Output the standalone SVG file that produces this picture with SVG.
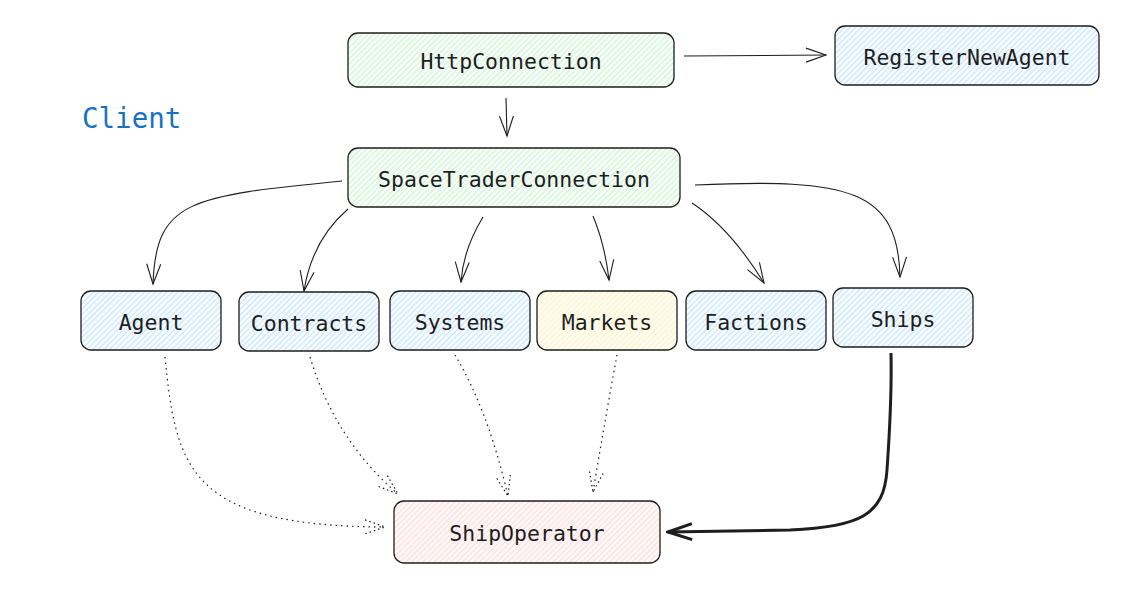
<svg xmlns="http://www.w3.org/2000/svg" width="1127" height="595" viewBox="0 0 1127 595">
<style>
.box{stroke:#1e1e1e;stroke-width:1.3;}
.lbl{font-family:"DejaVu Sans Mono","Liberation Mono",monospace;font-size:21.5px;fill:#1e1e1e;text-anchor:middle;dominant-baseline:central;}
.edge{fill:none;stroke:#1e1e1e;stroke-width:1.1;}
.dot{fill:none;stroke:#1e1e1e;stroke-width:1.2;stroke-dasharray:1.5 4;}
.thick{fill:none;stroke:#1e1e1e;stroke-width:3;}
</style>
<defs>
<pattern id="hg" width="4" height="4" patternUnits="userSpaceOnUse" patternTransform="rotate(45)"><rect width="4" height="4" fill="#f6fcf7"/><line x1="0" y1="0" x2="0" y2="4" stroke="#b2f2bb" stroke-width="1.2"/></pattern>
<pattern id="hb" width="4" height="4" patternUnits="userSpaceOnUse" patternTransform="rotate(45)"><rect width="4" height="4" fill="#f5faff"/><line x1="0" y1="0" x2="0" y2="4" stroke="#a5d8ff" stroke-width="1.2"/></pattern>
<pattern id="hy" width="4" height="4" patternUnits="userSpaceOnUse" patternTransform="rotate(45)"><rect width="4" height="4" fill="#fffdf3"/><line x1="0" y1="0" x2="0" y2="4" stroke="#ffec99" stroke-width="1.2"/></pattern>
<pattern id="hr" width="4" height="4" patternUnits="userSpaceOnUse" patternTransform="rotate(45)"><rect width="4" height="4" fill="#fff7f7"/><line x1="0" y1="0" x2="0" y2="4" stroke="#ffc9c9" stroke-width="1.2"/></pattern>
<marker id="arr" viewBox="0 0 24 20" refX="22" refY="10" markerWidth="24" markerHeight="20" markerUnits="userSpaceOnUse" orient="auto"><path d="M2,3 L22,10 L2,17" fill="none" stroke="#1e1e1e" stroke-width="1.1"/></marker>
<marker id="arrd" viewBox="0 0 24 20" refX="22" refY="10" markerWidth="24" markerHeight="20" markerUnits="userSpaceOnUse" orient="auto"><path d="M2,3 L22,10 L2,17" fill="none" stroke="#1e1e1e" stroke-width="1.2" stroke-dasharray="1.5 3"/></marker>
<marker id="arrt" viewBox="0 0 30 24" refX="28" refY="12" markerWidth="30" markerHeight="24" markerUnits="userSpaceOnUse" orient="auto"><path d="M4,4 L28,12 L4,20" fill="none" stroke="#1e1e1e" stroke-width="3"/></marker>
</defs>
<text x="82" y="118" style="font-family:'DejaVu Sans Mono','Liberation Mono',monospace;font-size:27.5px;fill:#1971c2;dominant-baseline:central;">Client</text>
<g id="connectors">
<path class="edge" d="M684,56 L826,55" marker-end="url(#arr)"/>
<path class="edge" d="M506,98 L507,136" marker-end="url(#arr)"/>
<path class="edge" d="M342,181 C190,196 156,200 153,284" marker-end="url(#arr)"/>
<path class="edge" d="M348,209 Q312,240 304,291" marker-end="url(#arr)"/>
<path class="edge" d="M483,217 Q463,250 461,282" marker-end="url(#arr)"/>
<path class="edge" d="M593,216 Q605,245 609,280" marker-end="url(#arr)"/>
<path class="edge" d="M692,203 Q730,228 764,283" marker-end="url(#arr)"/>
<path class="edge" d="M695,185 C850,178 898,190 900,277" marker-end="url(#arr)"/>
<path class="thick" d="M891,353 C892,400 889,440 887,470 C884,515 860,527 790,530 L668,532" marker-end="url(#arrt)"/>
<path class="dot" d="M165,357 C176,470 190,526 385,527" marker-end="url(#arrd)"/>
<path class="dot" d="M310,357 Q335,440 398,494" marker-end="url(#arrd)"/>
<path class="dot" d="M455,355 Q488,410 508,496" marker-end="url(#arrd)"/>
<path class="dot" d="M617,355 Q605,420 593,492" marker-end="url(#arrd)"/>
</g>
<g id="HttpConnection"><rect class="box" x="348" y="33" width="326" height="54" rx="10" fill="url(#hg)"/><text class="lbl" x="511" y="61">HttpConnection</text></g>
<g id="RegisterNewAgent"><rect class="box" x="835" y="26" width="264" height="59" rx="10" fill="url(#hb)"/><text class="lbl" x="967" y="57">RegisterNewAgent</text></g>
<g id="SpaceTraderConnection"><rect class="box" x="348" y="148" width="332" height="59" rx="10" fill="url(#hg)"/><text class="lbl" x="514" y="179">SpaceTraderConnection</text></g>
<g id="Agent"><rect class="box" x="81" y="291" width="140" height="59" rx="10" fill="url(#hb)"/><text class="lbl" x="151" y="322">Agent</text></g>
<g id="Contracts"><rect class="box" x="239" y="292" width="140" height="59" rx="10" fill="url(#hb)"/><text class="lbl" x="309" y="323">Contracts</text></g>
<g id="Systems"><rect class="box" x="390" y="291" width="140" height="59" rx="10" fill="url(#hb)"/><text class="lbl" x="460" y="322">Systems</text></g>
<g id="Markets"><rect class="box" x="537" y="291" width="140" height="59" rx="10" fill="url(#hy)"/><text class="lbl" x="607" y="322">Markets</text></g>
<g id="Factions"><rect class="box" x="686" y="291" width="140" height="59" rx="10" fill="url(#hb)"/><text class="lbl" x="756" y="322">Factions</text></g>
<g id="Ships"><rect class="box" x="833" y="288" width="140" height="59" rx="10" fill="url(#hb)"/><text class="lbl" x="903" y="319">Ships</text></g>
<g id="ShipOperator"><rect class="box" x="394" y="501" width="266" height="62" rx="10" fill="url(#hr)"/><text class="lbl" x="527" y="533">ShipOperator</text></g>
</svg>
